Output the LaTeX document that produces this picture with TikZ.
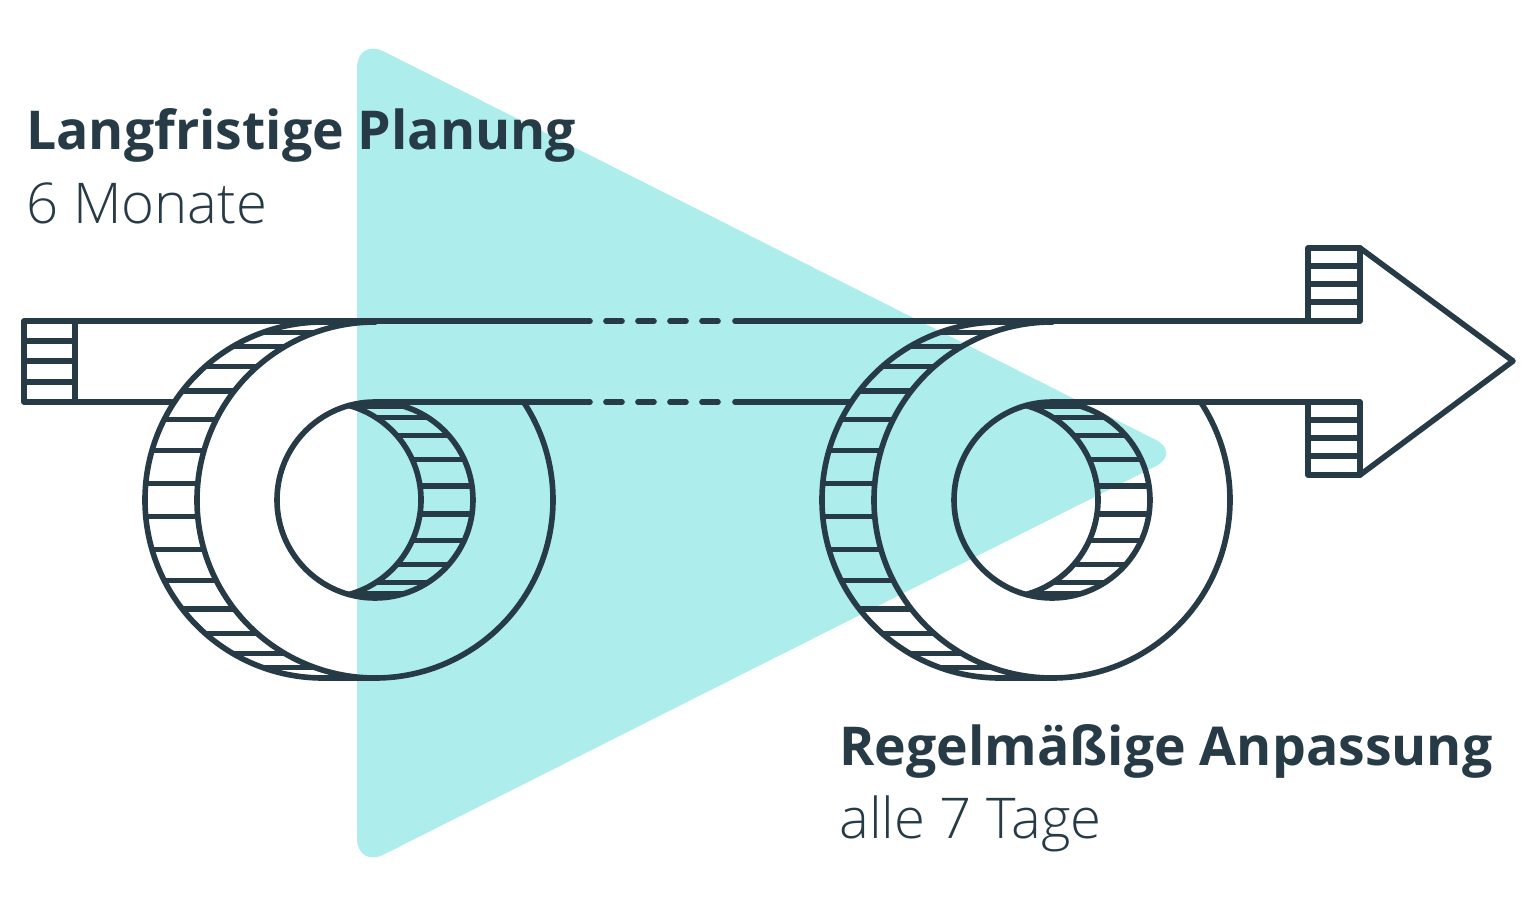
\documentclass[tikz,border=0pt]{standalone}
\usepackage{fontspec}
\usepackage{xcolor}
\setmainfont{Open Sans}
\newfontfamily\lightfont{Open Sans Light}
\definecolor{inkblue}{HTML}{273B47}
\definecolor{mintfill}{HTML}{ADEEEC}
\tikzset{
  outline/.style={draw=inkblue, line width=3.2pt, line cap=round, line join=round},
  slat/.style={draw=inkblue, line width=3pt},
  headline/.style={anchor=base west, inner sep=0pt, text=inkblue, font=\bfseries\fontsize{30.5}{36}\selectfont},
  subline/.style={anchor=base west, inner sep=0pt, text=inkblue, font=\lightfont\fontsize{32}{38}\selectfont}
}

\begin{document}
\begin{tikzpicture}[x=0.02cm, y=0.02cm]
  \useasboundingbox (0,0) rectangle (1536,904);
  \fill[mintfill, rounded corners=0.6cm] (357,866) -- (1182,451) -- (357,36) -- cycle;

  % the two rolls
  \foreach \cx in {375,1052} {
    \pgfmathsetmacro{\bx}{\cx-52}
    \draw[outline] (\cx,404) ++(33.4:178) arc[start angle=33.4, end angle=-270, radius=178];
    \draw[outline] (\bx,582) arc[start angle=90, end angle=270, radius=178];
    \draw[outline] (\bx,226) -- (\cx,226);
    \draw[outline] (\bx,582) -- (\cx,582);
    \draw[outline] (\cx,502) arc[start angle=90, end angle=270, radius=98];
    \draw[outline] (\cx,502) arc[start angle=90, end angle=-90, radius=98];
    \draw[outline] (\bx,404) ++(74.6:98) arc[start angle=74.6, end angle=-74.6, radius=98];
    \foreach \a in {5.4,16.2,27,37.8,48.6,59.4,70.2} {
      \draw[slat] (\bx,404) ++(180-\a:178) -- ++(52,0);
      \draw[slat] (\bx,404) ++(180+\a:178) -- ++(52,0);
    }
    \foreach \a in {8.2,24.6,41,57.4,73.8} {
      \draw[slat] (\bx,404) ++(\a:98) -- ++(52,0);
      \draw[slat] (\bx,404) ++(-\a:98) -- ++(52,0);
    }
  }

  % left end
  \draw[outline] (24,583) rectangle (75,502);
  \foreach \y in {563,543,522} \draw[slat] (24,\y) -- (75,\y);

  % shaft
  \draw[outline] (75,583) -- (590,583);
  \draw[outline] (75,502) -- (172,502);
  \draw[outline] (375,502) -- (590,502);
  \foreach \x in {606,638,670,702} {
    \draw[outline] (\x,583) -- ++(16,0);
    \draw[outline] (\x,502) -- ++(16,0);
  }
  \draw[outline] (735,583) -- (1308,583);
  \draw[outline] (735,502) -- (850,502);
  \draw[outline] (1052,502) -- (1308,502);

  % arrow head
  \draw[outline] (1308,583) rectangle (1360,656);
  \draw[outline] (1308,502) rectangle (1360,429);
  \foreach \y in {602,620,638,484,466,448} \draw[slat] (1308,\y) -- (1360,\y);
  \draw[outline] (1360,656) -- (1513,543) -- (1360,429);

  \node[headline] (planung) at (26,754) {Langfristige Planung};
  \node[subline] (monate) at (26,680) {6 Monate};
  \node[headline] (anpassung) at (839,139) {Regelmäßige Anpassung};
  \node[subline] (tage) at (839,66) {alle 7 Tage};
\end{tikzpicture}
\end{document}
